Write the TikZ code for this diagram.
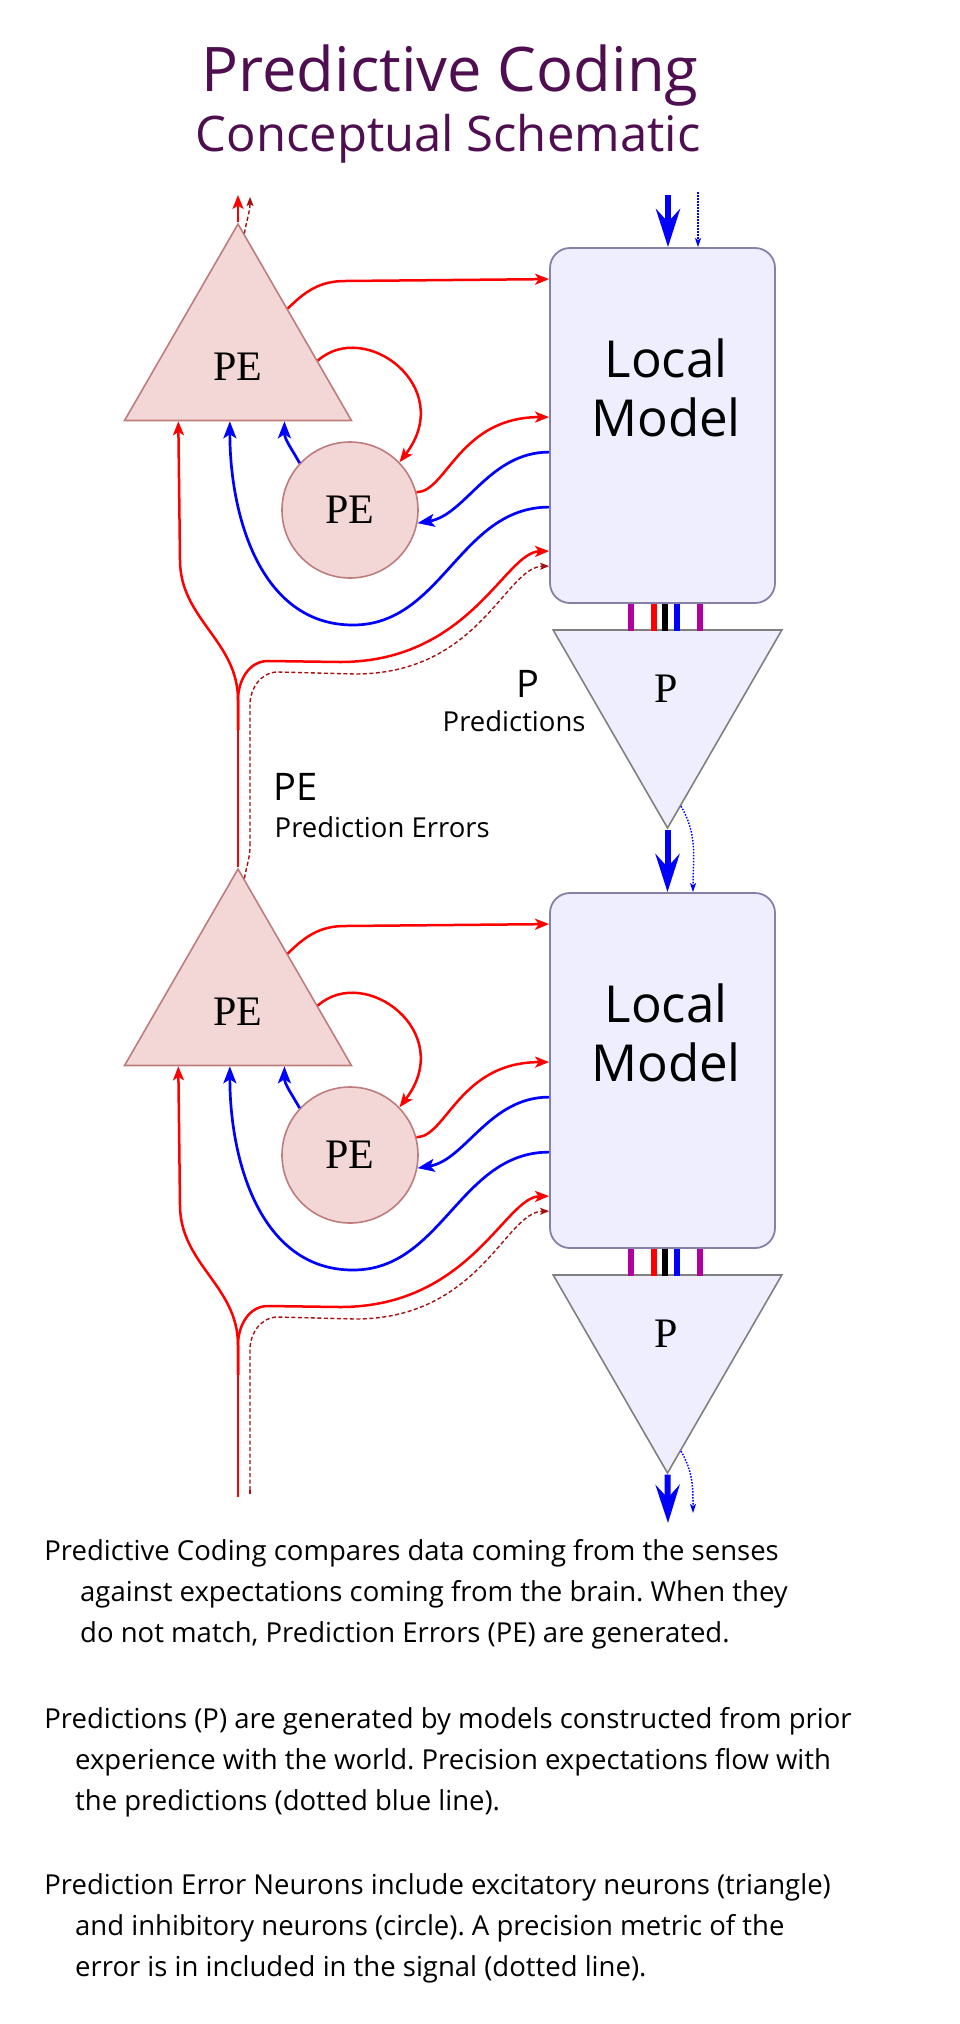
\documentclass[tikz,border=0pt]{standalone}
\usepackage{fontspec}
\setmainfont{Liberation Serif}
\setsansfont{Open Sans}
\usetikzlibrary{arrows.meta, positioning, calc, shapes.geometric}
\frenchspacing

\definecolor{titlepurple}{RGB}{78,14,80}
\definecolor{pefill}{RGB}{243,214,214}
\definecolor{pedraw}{RGB}{190,125,125}
\definecolor{modelfill}{RGB}{238,238,255}
\definecolor{modeldraw}{RGB}{134,128,168}
\definecolor{pdraw}{RGB}{128,128,128}
\definecolor{errred}{RGB}{165,15,15}
\definecolor{barmag}{RGB}{178,0,160}

\tikzset{
  petri/.style={regular polygon, regular polygon sides=3, minimum size=262pt,
    inner sep=0pt, fill=pefill, draw=pedraw, line width=1.6pt},
  pecirc/.style={circle, minimum size=136pt, inner sep=0pt, fill=pefill,
    draw=pedraw, line width=1.6pt, font=\fontsize{42}{46}\selectfont},
  ptri/.style={regular polygon, regular polygon sides=3, shape border rotate=180,
    minimum size=264pt, inner sep=0pt, fill=modelfill, draw=pdraw, line width=1.6pt},
  modelbox/.style={rectangle, rounded corners=20pt, minimum width=225pt,
    minimum height=355pt, inner sep=0pt, fill=modelfill, draw=modeldraw, line width=1.8pt},
  modeltext/.style={align=center, inner sep=0pt, font=\sffamily\fontsize{51}{59}\selectfont},
  shapelabel/.style={anchor=base, inner sep=0pt, font=\fontsize{42}{46}\selectfont},
  sidelabel/.style={anchor=base west, inner sep=0pt, font=\sffamily\fontsize{38}{42}\selectfont},
  sidenote/.style={anchor=base west, inner sep=0pt, font=\sffamily\fontsize{27.5}{32}\selectfont},
  bodyline/.style={anchor=base west, inner sep=0pt, font=\sffamily\fontsize{27.5}{40}\selectfont},
  redline/.style={draw=red, line width=2.5pt},
  redarr/.style={redline, -{Stealth[length=14pt, width=11pt, inset=3.5pt]}},
  bluearr/.style={draw=blue, line width=2.7pt, -{Stealth[length=17pt, width=13pt, inset=4pt]}},
  errline/.style={draw=errred, line width=1.4pt, dash pattern=on 4pt off 2.5pt},
  errarr/.style={errline, -{Stealth[length=9pt, width=7pt, inset=2pt]}},
  bigarr/.style={draw=blue, line width=6pt, -{Stealth[length=38pt, width=24pt, inset=13pt]}},
  precarr/.style={draw=blue, line width=1.5pt, dash pattern=on 1.5pt off 1.5pt,
    -{Stealth[length=9pt, width=6pt, inset=2pt]}}
}

\begin{document}
\begin{tikzpicture}[x=1pt, y=1pt]
  \path[use as bounding box] (0,0) rectangle (960,-2024);

  % Title
  \node[anchor=base, inner sep=0pt, text=titlepurple, font=\sffamily\fontsize{61.5}{70}\selectfont] (title) at (450,-91) {Predictive Coding};
  \node[anchor=base, inner sep=0pt, text=titlepurple, font=\sffamily\fontsize{49}{56}\selectfont] (subtitle) at (448,-151) {Conceptual Schematic};

  % Two identical stages
  \foreach \i/\dy in {1/0, 2/-645} {
    \begin{scope}[shift={(0,\dy)}]
      \node[petri] (T\i) at (238,-355) {};
      \node[shapelabel] (TL\i) at (238,-380) {PE};
      \node[pecirc] (C\i) at (350,-510) {PE};
      \node[modelbox] (B\i) at (662.5,-425.5) {};
      \node[modeltext] (ML\i) at (666,-388) {Local\\Model};
      \node[ptri] (P\i) at (667.5,-696) {};
      \node[shapelabel] (PL\i) at (666,-702) {P};
      \coordinate (split\i) at (238,-730);
      \coordinate (dsplit\i) at (250,-845);
      % bars between model and prediction
      \foreach \xb/\cb in {-31.5/barmag, -8.5/red, 2.5/black, 14.5/blue, 37/barmag}
        \draw[\cb, line width=6pt] ([xshift=\xb pt]B\i.south) -- ++(0,-27);
    \end{scope}
  }

  % Labels between the stages
  \node[sidelabel] (lblP) at (516.5,-697) {P};
  \node[sidenote] (lblPred) at (442.5,-731) {Predictions};
  \node[sidelabel] (lblPE) at (273.5,-800) {PE};
  \node[sidenote] (lblPErr) at (274.5,-837) {Prediction Errors};

  % Inputs of each stage
  \coordinate (foot) at (238,-1497);
  \coordinate (dfoot) at (250,-1494);
  \draw[redline] (T2.corner 1) -- (split1);
  \draw[errline] (T2.87) to[out=80,in=-90] (dsplit1);
  \draw[redline] (foot) -- (split2);
  \draw[errline] (dfoot) -- (dsplit2);

  % Connections inside each stage
  \foreach \i/\dy in {1/0, 2/-645} {
    \begin{scope}[shift={(0,\dy)}]
      \draw[redarr] (T\i.43) to[out=45,in=180] (345,-281) -- ([yshift=-32pt]B\i.north west);
      \draw[redarr] (T\i.-4) .. controls +(47,42) and +(58,75) .. (C\i.44);
      \draw[bluearr] (C\i.137) to[out=120,in=-90] (T\i.-55);
      \draw[redarr] (C\i.15) .. controls +(30,0) and +(-90,0) .. ([yshift=-170pt]B\i.north west);
      \draw[bluearr] ([yshift=-205pt]B\i.north west) .. controls +(-60,0) and +(48,8) .. (C\i.-11);
      \draw[bluearr] ([yshift=-260pt]B\i.north west) to[out=180,in=0] (353,-625) to[out=180,in=-90] (T\i.-97);
      \draw[redarr] (split\i) -- (238,-700) to[out=90,in=-90] (180,-560) -- (T\i.-132);
      \draw[redarr] (split\i) -- (238,-700) to[out=90,in=180] (268,-661) -- (340,-662)
        .. controls (470,-662) and (505,-552) .. ([yshift=-304pt]B\i.north west);
      \draw[errarr] (dsplit\i) -- (250,-705) to[out=90,in=180] (278,-672) -- (355,-674)
        .. controls (480,-674) and (505,-567) .. ([yshift=-319pt]B\i.north west);
    \end{scope}
  }

  % Outputs of the upper PE triangle
  \coordinate (peout) at (238,-195);
  \draw[redarr] (T1.corner 1) -- (peout);
  \draw[errarr] (T1.87) to[out=80,in=-90] (250,-197);

  % Predictions entering the upper model
  \coordinate (pin) at (668,-195);
  \coordinate (qin) at (698,-192);
  \draw[bigarr] (pin) -- (pin |- B1.north);
  \draw[precarr] (qin) -- (qin |- B1.north);

  % Predictions from the upper to the lower model
  \coordinate (p1tip) at (P1.corner 1);
  \draw[bigarr] (p1tip) -- (p1tip |- B2.north);
  \draw[precarr] (P1.-83) to[out=-60,in=90] ([xshift=30.5pt]B2.north);

  % Output of the lower model
  \coordinate (pout) at (668,-1523);
  \coordinate (qout) at (693,-1513);
  \draw[bigarr] (P2.corner 1) -- (pout);
  \draw[precarr] (P2.-83) to[out=-60,in=90] (qout);

  % Explanation
  \foreach \yy/\xx/\txt in {
      1560/44.2/{Predictive Coding compares data coming from the senses},
      1601/80/{against expectations coming from the brain. When they},
      1642/80/{do not match, Prediction Errors (PE) are generated.},
      1728/44.2/{Predictions (P) are generated by models constructed from prior},
      1769/75/{experience with the world. Precision expectations flow with},
      1810/75/{the predictions (dotted blue line).},
      1894/44.2/{Prediction Error Neurons include excitatory neurons (triangle)},
      1935/75/{and inhibitory neurons (circle). A precision metric of the},
      1976/75/{error is in included in the signal (dotted line).}}
    \node[bodyline] (line\yy) at (\xx,-\yy) {\txt};
\end{tikzpicture}
\end{document}
